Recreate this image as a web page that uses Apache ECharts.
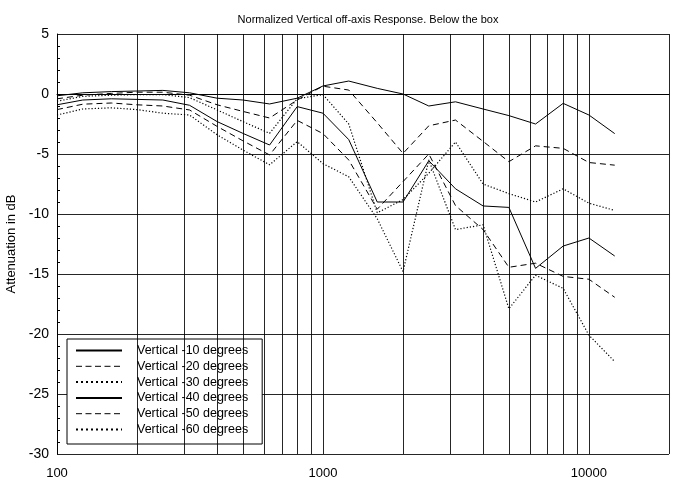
<!DOCTYPE html>
<html>
<head>
<meta charset="utf-8">
<script src="https://cdn.jsdelivr.net/npm/echarts@6/dist/echarts.min.js"></script>
<style>
html,body{margin:0;padding:0;background:#fff;}
#chart{width:676px;height:478px;}
</style>
</head>
<body>
<div id="chart"></div>
<script>
// Frequencies (Hz)
var freqs = [100, 125, 160, 200, 250, 315, 400, 500, 630, 800, 1000, 1250, 1600, 2000, 2500, 3150, 4000, 5000, 6300, 8000, 10000, 12500];
// Attenuation in dB
var vert10 = [-0.15, 0.1, 0.2, 0.25, 0.3, 0.1, -0.35, -0.5, -0.83, -0.35, 0.67, 1.08, 0.47, 0.0, -1.0, -0.65, -1.25, -1.8, -2.5, -0.78, -1.75, -3.3];
var vert20 = [-0.4, -0.1, 0.05, 0.15, 0.15, -0.1, -0.9, -1.45, -2.0, -0.5, 0.65, 0.33, -2.4, -4.95, -2.65, -2.17, -3.95, -5.64, -4.32, -4.53, -5.71, -5.93];
var vert30 = [-0.6, -0.2, -0.1, -0.05, -0.05, -0.3, -1.33, -2.3, -3.28, -0.4, -0.05, -2.5, -9.9, -8.8, -6.6, -4.0, -7.5, -8.3, -9.0, -7.9, -9.1, -9.7];
var vert40 = [-0.9, -0.5, -0.4, -0.45, -0.5, -0.94, -2.3, -3.28, -4.25, -1.05, -1.6, -3.8, -9.0, -9.0, -5.56, -7.9, -9.33, -9.45, -14.53, -12.67, -12.0, -13.5];
var vert50 = [-1.3, -0.85, -0.75, -0.9, -1.0, -1.33, -2.7, -3.9, -5.08, -2.2, -3.3, -5.5, -9.6, -7.3, -5.0, -9.3, -11.3, -14.44, -14.1, -15.2, -15.44, -16.94];
var vert60 = [-1.75, -1.25, -1.15, -1.3, -1.6, -1.75, -3.4, -4.67, -5.9, -3.97, -5.8, -6.9, -10.4, -14.8, -5.5, -11.3, -10.9, -17.9, -15.1, -16.2, -20.1, -22.3];
// Minor vertical grid lines
var minorGrid = [200, 300, 400, 500, 600, 700, 800, 900, 2000, 3000, 4000, 5000, 6000, 7000, 8000, 9000];

var names = ['Vertical -10 degrees', 'Vertical -20 degrees', 'Vertical -30 degrees', 'Vertical -40 degrees', 'Vertical -50 degrees', 'Vertical -60 degrees'];
var values = [vert10, vert20, vert30, vert40, vert50, vert60];
var dashes = ['solid', [6, 4], [1.2, 2], 'solid', [6, 4], [1.2, 2]];
var seriesWidths = [1, 1, 1.2, 1, 1, 1.2];
var legendWidths = [2, 1, 2, 2, 1, 2];
var legendDashes = ['solid', [6, 3.5], [2, 3], 'solid', [6, 3.5], [2, 3]];

function pairs(arr) {
  return freqs.map(function (f, i) { return [f, arr[i]]; });
}

var series = names.map(function (n, i) {
  return {
    name: n,
    type: 'line',
    data: pairs(values[i]),
    symbol: 'none',
    showSymbol: false,
    silent: true,
    animation: false,
    lineStyle: { color: '#000', width: seriesWidths[i], type: dashes[i] },
    itemStyle: { color: '#000' },
    z: 3
  };
});
series[0].markLine = {
  silent: true,
  symbol: ['none', 'none'],
  label: { show: false },
  animation: false,
  lineStyle: { color: '#000', width: 1, type: 'solid', opacity: 0.85 },
  data: minorGrid.map(function (v) { return { xAxis: v }; })
};

var chart = echarts.init(document.getElementById('chart'), null, { renderer: 'canvas' });
chart.setOption({
  animation: false,
  backgroundColor: '#fff',
  title: {
    text: 'Normalized Vertical off-axis Response. Below the box',
    left: 363,
    top: 9,
    textAlign: 'center',
    textStyle: { fontFamily: 'Liberation Sans, Arial', fontSize: 11, fontWeight: 'normal', color: '#000' }
  },
  legend: {
    orient: 'vertical',
    left: 67,
    top: 339,
    padding: [5, 14, 8, 8],
    itemWidth: 46,
    itemHeight: 14,
    itemGap: 2.8,
    backgroundColor: '#fff',
    borderColor: '#000',
    borderWidth: 1,
    borderRadius: 0,
    selectedMode: false,
    textStyle: { fontFamily: 'Liberation Sans, Arial', fontSize: 12.5, color: '#000', padding: [0, 0, 0, 10] },
    data: names.map(function (n, i) {
      return {
        name: n,
        itemStyle: { color: 'rgba(0,0,0,0)', borderColor: 'rgba(0,0,0,0)', borderWidth: 0, opacity: 0 },
        lineStyle: { color: '#000', width: legendWidths[i], type: legendDashes[i], opacity: 1 }
      };
    })
  },
  grid: { left: 57, right: 7, top: 34, bottom: 24, containLabel: false, outerBoundsMode: 'none' },
  xAxis: {
    type: 'log',
    logBase: 10,
    min: 100,
    max: 20000,
    axisLine: { show: true, lineStyle: { color: '#000', width: 1 } },
    axisTick: { show: false },
    axisLabel: {
      color: '#000', fontFamily: 'Liberation Sans, Arial', fontSize: 13, margin: 13, showMaxLabel: false,
      formatter: function (v) { return String(Math.round(v)); }
    },
    splitLine: { show: true, lineStyle: { color: '#000', width: 1, opacity: 0.85 } }
  },
  yAxis: {
    type: 'value',
    min: -30,
    max: 5,
    interval: 5,
    name: 'Attenuation in dB',
    nameLocation: 'middle',
    nameGap: 17,
    nameTextStyle: { fontFamily: 'Liberation Sans, Arial', fontSize: 13, color: '#000' },
    axisLine: { show: true, lineStyle: { color: '#000', width: 1 } },
    axisTick: { show: false, inside: true },
    minorTick: { show: true, splitNumber: 5, length: 3, lineStyle: { color: '#000' } },
    axisLabel: { color: '#000', fontFamily: 'Liberation Sans, Arial', fontSize: 14, margin: 8 },
    splitLine: { show: true, lineStyle: { color: '#000', width: 1, opacity: 0.85 } }
  },
  series: series
});
</script>
</body>
</html>
